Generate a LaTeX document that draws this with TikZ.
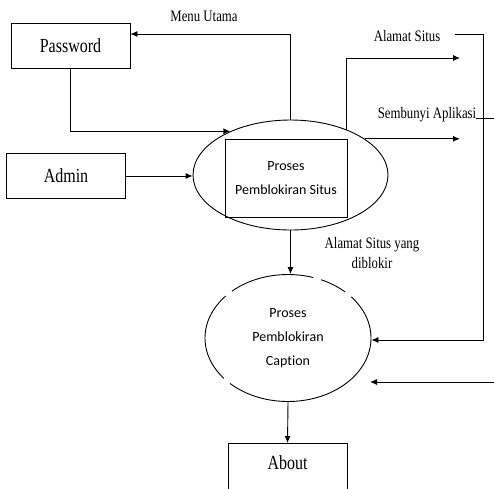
\documentclass[tikz,border=0pt]{standalone}
\usepackage{fontspec}
\setmainfont{Liberation Serif}[FakeStretch=0.8]
\newfontfamily\prosfont{Carlito}[Ligatures=CommonOff]
\usetikzlibrary{shapes.geometric,arrows.meta}
\begin{document}
\begin{tikzpicture}[x=1pt,y=-1pt,line width=0.9pt,
    arr/.style={-{Latex[length=7pt,width=6pt]}},
    box/.style={draw,minimum width=119pt,minimum height=45pt,font=\fontsize{20}{24}\selectfont},
    lbl/.style={font=\fontsize{16}{20}\selectfont,align=center},
    proc/.style={font=\prosfont\fontsize{14}{24}\selectfont,align=center}]
    \useasboundingbox (0,0) rectangle (494,488);
    \node[box] (pass) at (70.5,45.5) {Password};
    \node[box] (admin) at (66,176) {Admin};
    \node[box,anchor=north,minimum height=0pt,inner ysep=6pt,text height=20pt,text depth=25pt] (about) at (287.5,443) {About};
    \node[draw,ellipse,minimum width=195pt,minimum height=110pt] (p1) at (290.5,175) {};
    \node[draw,proc,minimum width=122pt,minimum height=78pt] (p1r) at (286,178) {Proses\\Pemblokiran Situs};
    \node[draw,ellipse,proc,minimum width=166pt,minimum height=127pt,
          dash pattern=on 47pt off 8pt on 27pt off 8pt on 85pt off 8pt on 94pt off 8pt on 200pt off 1pt] (p2) at (288,338) {Proses\\Pemblokiran\\Caption};
    \node[lbl] (mu) at (204,16) {Menu Utama};
    \node[lbl] (as) at (407,36) {Alamat Situs};
    \node[lbl] (sa) at (427,115) {Sembunyi Aplikasi};
    \node[lbl] (asd) at (372,253) {Alamat Situs yang\\diblokir};
    \coordinate (as1) at (460,58);
    \coordinate (sa1) at (460,139);
    \coordinate (as2) at (455,34);
    \coordinate (rt1) at (483,340);
    \coordinate (sa2) at (476,118);
    \coordinate (sa3) at (494,118);
    \coordinate (in1) at (494,382);
    \coordinate (in2) at (370,382);
    \draw[arr] (p1.north) |- ([yshift=11.5pt]pass.east);
    \draw[arr] (pass.south) |- (p1.144);
    \draw[arr] (admin.east) -- (admin.east -| p1.west);
    \draw[arr] (p1.39) |- (as1);
    \draw[arr] (p1.26) -- (p1.26 -| sa1);
    \draw[arr] (as2) -| (rt1) -- (rt1 -| p2.east);
    \draw (sa2) -- (sa3);
    \draw[arr] (in1) -- (in2);
    \draw[arr] (p1.south) -- (p1.south |- p2.north);
    \draw[arr] (p2.south) -- (about.north);
\end{tikzpicture}
\end{document}
